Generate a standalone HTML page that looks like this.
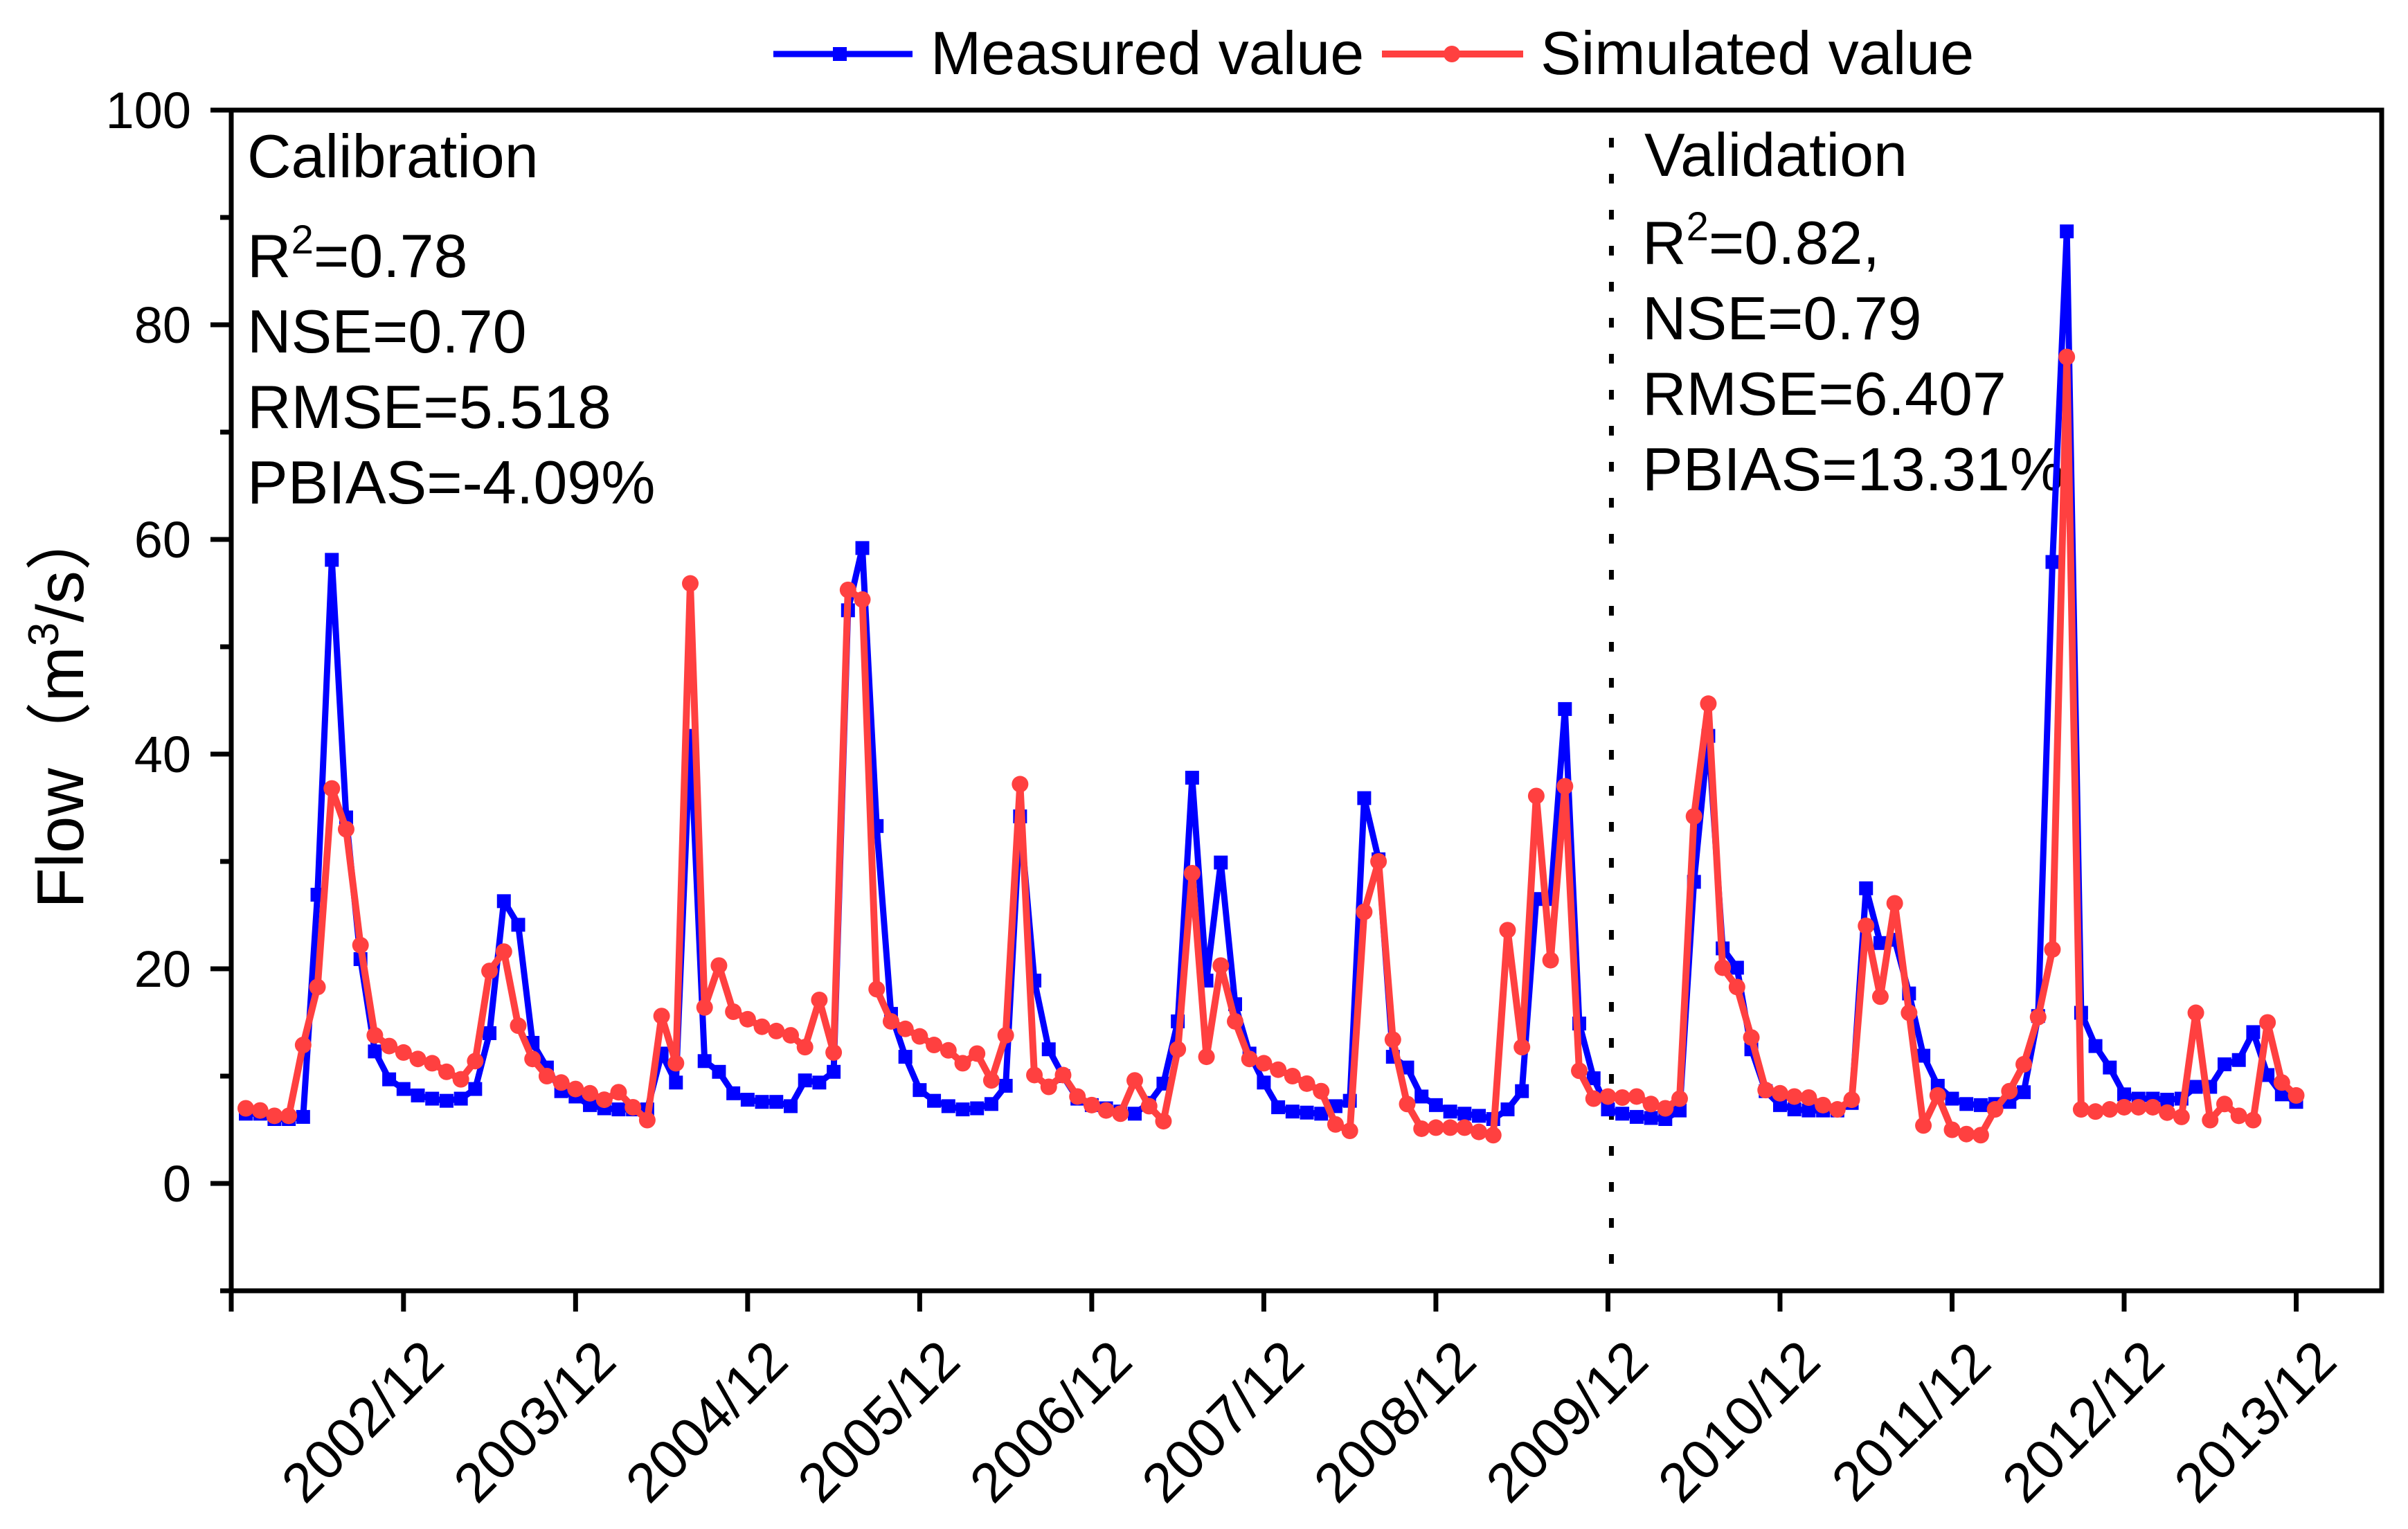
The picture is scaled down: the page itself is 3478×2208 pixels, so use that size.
<!DOCTYPE html>
<html><head><meta charset="utf-8"><style>
html,body{margin:0;padding:0;background:#fff;}
svg{display:block;font-family:"Liberation Sans","Noto Sans CJK SC",sans-serif;}
</style></head><body>
<svg id="chart" width="3478" height="2208" viewBox="0 0 3478 2208" xmlns="http://www.w3.org/2000/svg">
<rect x="0" y="0" width="3478" height="2208" fill="#fff"/>
<g id="legend">
 <g>
  <line x1="1117" y1="78" x2="1318" y2="78" stroke="#0000ff" stroke-width="9"/>
  <rect x="1203" y="68" width="20" height="20" fill="#0000ff"/>
  <text x="1344" y="107" font-size="88">Measured value</text>
 </g>
 <g>
  <line x1="1996" y1="78" x2="2200" y2="78" stroke="#ff4040" stroke-width="10"/>
  <ellipse cx="2097" cy="78" rx="12" ry="12" fill="#ff4040"/>
  <text x="2225" y="107" font-size="88">Simulated value</text>
 </g>
</g>
<g id="annot">
 <text x="357" y="256" font-size="88">Calibration</text>
 <text x="357" y="400" font-size="88">R<tspan dy="-34" font-size="58">2</tspan><tspan dy="34">=0.78</tspan></text>
 <text x="357" y="509" font-size="88">NSE=0.70</text>
 <text x="357" y="618" font-size="88">RMSE=5.518</text>
 <text x="357" y="727" font-size="88">PBIAS=-4.09%</text>
 <text x="2375" y="254" font-size="88">Validation</text>
 <text x="2372" y="381" font-size="88">R<tspan dy="-34" font-size="58">2</tspan><tspan dy="34">=0.82,</tspan></text>
 <text x="2372" y="490" font-size="88">NSE=0.79</text>
 <text x="2372" y="599" font-size="88">RMSE=6.407</text>
 <text x="2372" y="708" font-size="88">PBIAS=13.31%</text>
</g>
<text transform="translate(120,1020) rotate(-90)" text-anchor="middle" font-size="96">Flow（m<tspan dy="-36" font-size="62">3</tspan><tspan dy="36">/s）</tspan></text>
</svg>
<script>
const measured = [6.5,6.5,6.0,6.0,6.2,26.9,58.1,34.1,20.9,12.3,9.7,8.8,
8.2,7.9,7.7,7.9,8.8,14.0,26.3,24.1,13.1,10.8,8.6,8.1,
7.3,7.0,6.9,6.9,6.9,12.1,9.4,41.7,11.4,10.4,8.4,7.8,
7.6,7.6,7.2,9.6,9.4,10.4,53.4,59.2,33.3,15.8,11.8,8.7,
7.7,7.2,6.9,7.0,7.4,9.1,34.2,18.9,12.5,10.0,7.9,7.3,
7.0,6.7,6.5,7.5,9.3,15.1,37.8,18.9,29.9,16.7,12.1,9.4,
7.1,6.7,6.6,6.5,7.2,7.7,35.9,30.2,11.8,10.8,8.1,7.3,
6.7,6.5,6.3,6.0,6.9,8.6,26.5,26.5,44.2,14.9,9.8,6.9,
6.5,6.2,6.1,6.0,6.8,28.1,41.7,21.9,20.1,12.5,8.6,7.3,
6.9,6.8,6.8,6.8,7.5,27.5,22.4,22.7,17.7,11.9,9.1,7.9,
7.4,7.3,7.4,7.6,8.5,15.6,57.9,88.7,15.9,12.8,10.8,8.3,
7.9,7.9,7.8,7.9,9.0,9.0,11.1,11.5,14.1,10.1,8.3,7.6];
const simulated = [7.0,6.8,6.3,6.3,12.9,18.3,36.8,33.0,22.2,13.8,12.8,12.2,
11.6,11.2,10.4,9.7,11.4,19.8,21.6,14.7,11.6,10.0,9.4,8.8,
8.4,7.8,8.5,7.1,5.9,15.6,11.2,55.9,16.4,20.3,16.0,15.3,
14.6,14.2,13.8,12.7,17.1,12.2,55.3,54.4,18.1,15.1,14.4,13.7,
12.9,12.4,11.2,12.1,9.6,13.8,37.2,10.1,9.0,10.1,8.1,7.3,
6.8,6.5,9.6,7.2,5.8,12.5,28.9,11.8,20.3,15.1,11.6,11.2,
10.6,10.0,9.3,8.6,5.5,4.9,25.3,30.0,13.4,7.4,5.1,5.2,
5.2,5.2,4.8,4.5,23.6,12.7,36.1,20.8,37.0,10.5,7.9,8.1,
8.0,8.1,7.4,7.0,7.9,34.2,44.7,20.1,18.3,13.6,8.7,8.4,
8.1,8.0,7.3,6.9,7.8,24.0,17.4,26.1,15.9,5.4,8.2,5.0,
4.6,4.5,6.9,8.6,11.1,15.5,21.8,77.0,6.9,6.7,6.9,7.1,
7.1,7.1,6.6,6.2,15.9,5.9,7.4,6.3,5.9,15.0,9.4,8.2];
const xTickLabels = ["2002/12","2003/12","2004/12","2005/12","2006/12","2007/12","2008/12","2009/12","2010/12","2011/12","2012/12","2013/12"];
const xTickIndex = [11,23,35,47,59,71,83,95,107,119,131,143];
const yMajorTicks = [0,20,40,60,80,100];
const yMinorTicks = [-10,10,30,50,70,90];
const splitIndex = [95];

const NS="http://www.w3.org/2000/svg";
const svg=document.getElementById('chart');
const L=334, R=3440, T=159, B=1864;
const yMin=-10, yMax=100;
function xs(i){return 355 + i*20.71;}
function ys(v){return B - (v-yMin)/(yMax-yMin)*(B-T);}
function mk(tag,attrs,parent){const e=document.createElementNS(NS,tag);for(const k in attrs)e.setAttribute(k,attrs[k]);(parent||svg).appendChild(e);return e;}

const frame=mk('g',{});


mk('rect',{x:L,y:T,width:R-L,height:B-T,fill:'none',stroke:'#000','stroke-width':7},frame);

const yAxis=mk('g',{});


yMajorTicks.forEach(v=>{
  const y=ys(v);
  const t=mk('line',{x1:L-30,x2:L,y1:y,y2:y,stroke:'#000','stroke-width':7},yAxis);
  
  
  const lb=mk('text',{x:276,y:y+26,'text-anchor':'end','font-size':74},yAxis);
  lb.textContent=String(v);
  
  
});
yMinorTicks.forEach(v=>{
  const y=ys(v);
  const t=mk('line',{x1:L-16,x2:L,y1:y,y2:y,stroke:'#000','stroke-width':7},yAxis);
  
  
});

const xAxis=mk('g',{});


const lt=mk('line',{x1:L,x2:L,y1:B,y2:B+30,stroke:'#000','stroke-width':7},xAxis);


xTickIndex.forEach((idx,k)=>{
  const x=xs(idx);
  const t=mk('line',{x1:x,x2:x,y1:B,y2:B+30,stroke:'#000','stroke-width':7},xAxis);
  
  
  const tx=x-40, ty=2072;
  const lb=mk('text',{x:tx,y:ty,'text-anchor':'middle','font-size':80,transform:'rotate(-45 '+tx+' '+ty+')'},xAxis);
  lb.textContent=xTickLabels[k];
  
  
});

splitIndex.forEach(idx=>{
  const x=xs(idx)+5;
  const d=mk('line',{x1:x,x2:x,y1:T+40,y2:B,stroke:'#000','stroke-width':7,'stroke-dasharray':'14 38'});
  
  
});

function series(vals,color,width,name,marker){
  const g=mk('g',{});
  
  
  const pts=vals.map((v,i)=>xs(i).toFixed(1)+','+ys(v).toFixed(1)).join(' ');
  const pl=mk('polyline',{points:pts,fill:'none',stroke:color,'stroke-width':width,'stroke-linejoin':'round'},g);
  
  
  vals.forEach((v,i)=>{
    let m;
    if(marker==='square'){m=mk('rect',{x:xs(i)-10,y:ys(v)-10,width:20,height:20,fill:color},g);}
    else{m=mk('ellipse',{cx:xs(i),cy:ys(v),rx:12,ry:12,fill:color},g);}
    
    
  });
}
series(measured,'#0000ff',9,'measured-series','square');
series(simulated,'#ff4040',10,'simulated-series','circle');
</script>
</body></html>
